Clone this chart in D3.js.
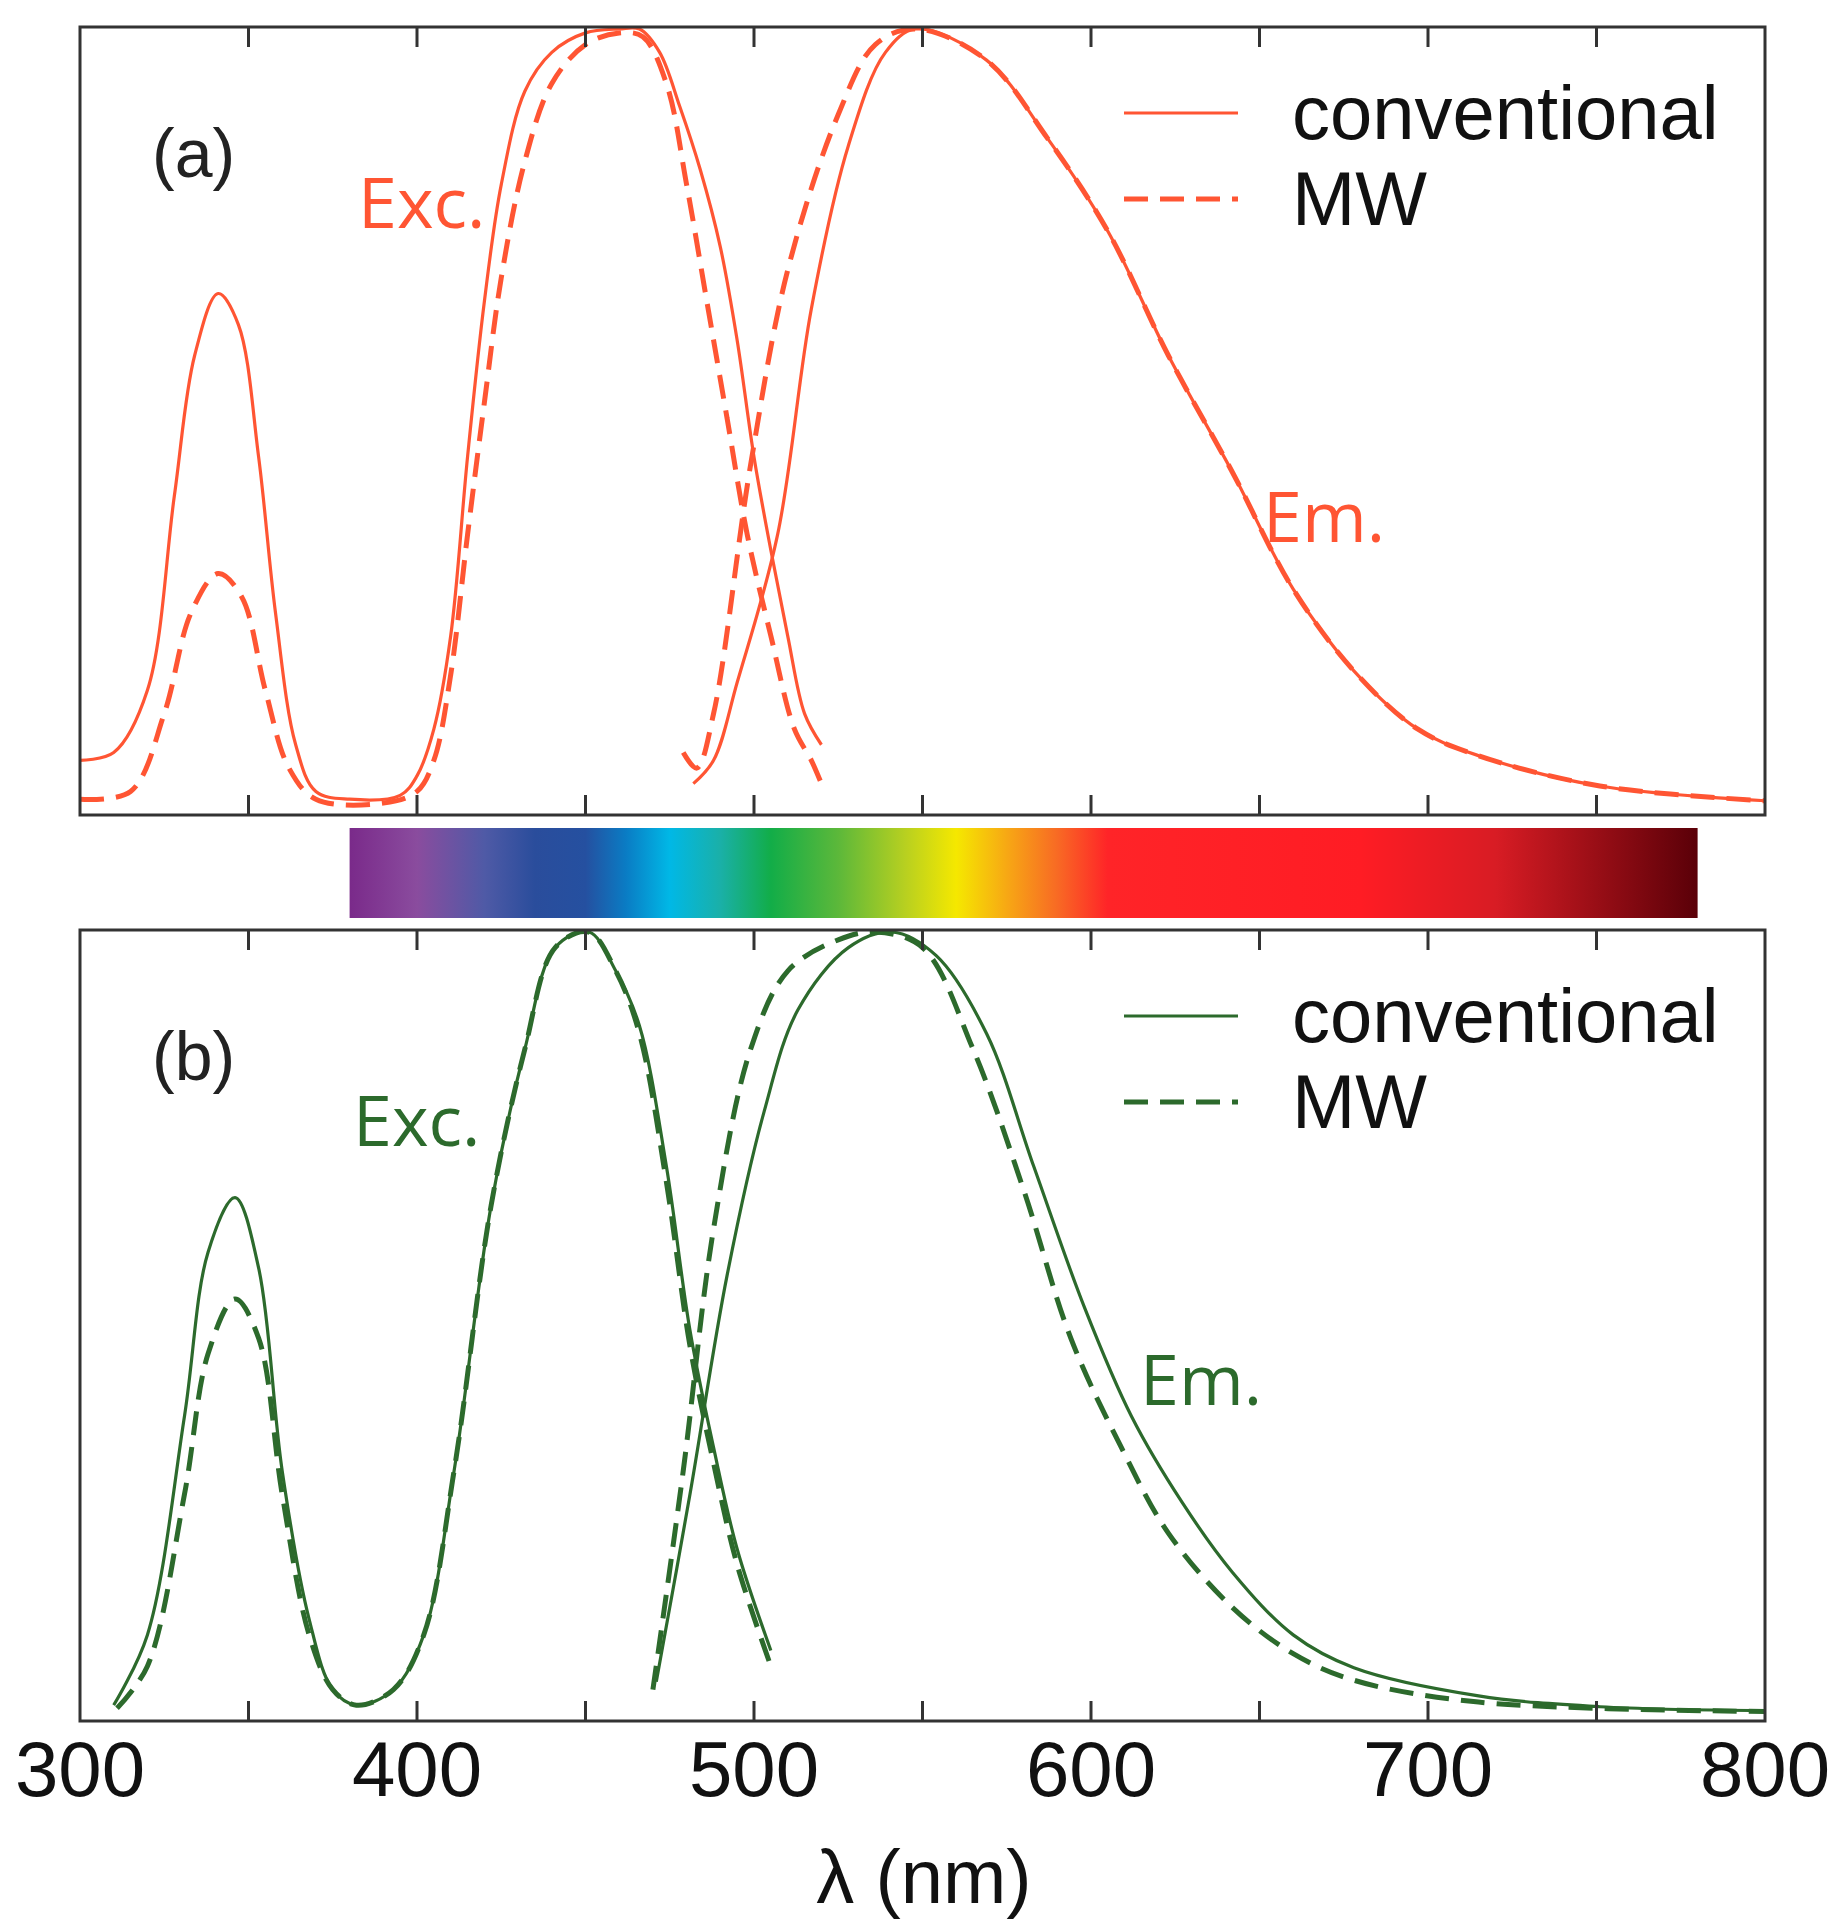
<!DOCTYPE html>
<html><head><meta charset="utf-8">
<script src="https://cdn.jsdelivr.net/npm/d3@7"></script>
<style>body{margin:0;background:#fff}svg{display:block}</style>
</head><body>
<svg id="chart" width="1848" height="1931"></svg>
<script>
// spectra: [wavelength nm, normalized intensity]
const aExcConv = [[300,0.06],[310,0.07],[320,0.15],[328,0.4],[334,0.58],[341,0.66],[347,0.62],[353,0.45],[358,0.25],[364,0.08],[370,0.02],[380,0.01],[395,0.015],[400,0.04],[405,0.1],[410,0.22],[415,0.45],[420,0.65],[425,0.8],[432,0.92],[440,0.97],[450,0.995],[460,1.0],[466,1.0],[472,0.97],[478,0.9],[484,0.82],[490,0.72],[495,0.6],[500,0.45],[505,0.33],[510,0.22],[515,0.12],[520,0.08]];
const aExcMW = [[300,0.01],[315,0.02],[325,0.12],[333,0.25],[341,0.3],[348,0.27],[355,0.15],[362,0.05],[370,0.01],[390,0.005],[400,0.02],[405,0.06],[410,0.17],[415,0.35],[420,0.52],[425,0.68],[432,0.83],[440,0.93],[450,0.98],[460,0.995],[467,0.99],[474,0.93],[480,0.8],[486,0.65],[492,0.5],[498,0.35],[505,0.22],[512,0.1],[517,0.06],[520,0.03]];
const aEmConv = [[482,0.03],[488,0.06],[495,0.16],[507,0.35],[517,0.64],[528,0.85],[539,0.97],[548,1.0],[569,0.96],[587,0.86],[605,0.74],[623,0.58],[642,0.43],[660,0.28],[678,0.175],[697,0.1],[715,0.066],[751,0.027],[800,0.008]];
const aEmMW = [[479,0.07],[483,0.05],[488,0.12],[499,0.44],[510,0.69],[525,0.89],[536,0.98],[548,1.0],[569,0.96],[587,0.86],[605,0.74],[623,0.58],[642,0.43],[660,0.28],[678,0.175],[697,0.1],[715,0.066],[751,0.027],[800,0.008]];
const bExcConv = [[310,0.01],[320,0.1],[331,0.38],[338,0.59],[346,0.66],[353,0.57],[360,0.31],[368,0.12],[375,0.03],[382,0.01],[393,0.03],[402,0.1],[411,0.31],[422,0.65],[432,0.85],[441,0.98],[451,1.0],[459,0.95],[466,0.88],[474,0.7],[481,0.49],[488,0.34],[495,0.21],[505,0.08]];
const bExcMW = [[311,0.006],[320,0.06],[331,0.28],[338,0.46],[346,0.53],[353,0.48],[360,0.28],[368,0.1],[375,0.03],[382,0.01],[393,0.03],[402,0.1],[411,0.31],[422,0.65],[432,0.85],[441,0.98],[451,1.0],[459,0.95],[466,0.87],[474,0.68],[481,0.47],[488,0.32],[495,0.19],[505,0.06]];
const bEmConv = [[471,0.04],[481,0.28],[492,0.56],[503,0.77],[513,0.9],[528,0.98],[541,1.0],[554,0.97],[569,0.87],[583,0.7],[598,0.52],[612,0.38],[627,0.27],[642,0.18],[660,0.1],[678,0.058],[715,0.022],[751,0.008],[800,0.003]];
const bEmMW = [[470,0.03],[479,0.31],[488,0.62],[499,0.85],[510,0.95],[525,0.99],[536,1.0],[550,0.98],[565,0.85],[580,0.67],[594,0.48],[609,0.34],[623,0.23],[642,0.135],[660,0.076],[678,0.042],[715,0.014],[800,0.002]];
const xTicks = [300,350,400,450,500,550,600,650,700,750,800];
const xLabels = [300,400,500,600,700,800];
const spectrumStops = [[380,"#7a2a8a"],[400,"#8a4c9e"],[420,"#4f5aa6"],[435,"#2a4d9c"],[450,"#2550a0"],[462,"#0a7cc4"],[475,"#00b8e6"],[490,"#1ab0a8"],[505,"#12ad48"],[525,"#5cb83a"],[545,"#b8d020"],[560,"#f5e800"],[575,"#f7a814"],[590,"#f86a24"],[605,"#ff2428"],[680,"#ff1c24"],[720,"#d81c24"],[780,"#5a0008"]];

const svg = d3.select("#chart");
const x = d3.scaleLinear().domain([300, 800]).range([80, 1765]);
const panels = [
  {top: 27, bottom: 815, color: "#ff5533", conv: [aExcConv, aEmConv], mw: [aExcMW, aEmMW], tag: "(a)",
   exc: [358, 228], em: [1263, 542]},
  {top: 930, bottom: 1721, color: "#2c6a2c", conv: [bExcConv, bEmConv], mw: [bExcMW, bEmMW], tag: "(b)",
   exc: [353, 1146], em: [1140, 1405]}
];
const font = "'Liberation Sans', Arial, sans-serif";
const calibri = "'Open Sans', 'Noto Sans', sans-serif";

panels.forEach(p => {
  const y = d3.scaleLinear().domain([0, 1]).range([p.bottom - 8, p.top + 2]);
  const line = d3.line().x(d => x(d[0])).y(d => y(d[1])).curve(d3.curveCatmullRom);
  const g = svg.append("g");
  p.conv.forEach(s => g.append("path").attr("d", line(s)).attr("fill", "none").attr("stroke", p.color).attr("stroke-width", 3.2));
  p.mw.forEach(s => g.append("path").attr("d", line(s)).attr("fill", "none").attr("stroke", p.color).attr("stroke-width", 5).attr("stroke-dasharray", "24 12"));
  g.append("rect").attr("x", x(300)).attr("y", p.top).attr("width", x(800) - x(300)).attr("height", p.bottom - p.top)
    .attr("fill", "none").attr("stroke", "#333").attr("stroke-width", 3);
  xTicks.slice(1, -1).forEach(t => {
    g.append("line").attr("x1", x(t)).attr("x2", x(t)).attr("y1", p.top).attr("y2", p.top + 20).attr("stroke", "#333").attr("stroke-width", 3);
    g.append("line").attr("x1", x(t)).attr("x2", x(t)).attr("y1", p.bottom).attr("y2", p.bottom - 20).attr("stroke", "#333").attr("stroke-width", 3);
  });
  g.append("text").attr("x", 152).attr("y", p.top + 150).attr("font-family", font).attr("font-size", 68).attr("fill", "#222").text(p.tag);
  g.append("text").attr("x", p.exc[0]).attr("y", p.exc[1]).attr("font-family", calibri).attr("font-size", 70).attr("fill", p.color).text("Exc.");
  g.append("text").attr("x", p.em[0]).attr("y", p.em[1]).attr("font-family", calibri).attr("font-size", 70).attr("fill", p.color).text("Em.");
  [["conventional", 3.2, null, 86], ["MW", 5, "24 12", 172]].forEach(([lbl, w, dash, dy]) => {
    g.append("line").attr("x1", 1124).attr("x2", 1238).attr("y1", p.top + dy).attr("y2", p.top + dy)
      .attr("stroke", p.color).attr("stroke-width", w).attr("stroke-dasharray", dash);
    g.append("text").attr("x", 1292).attr("y", p.top + dy + 26).attr("font-family", font).attr("font-size", 76).attr("fill", "#111").text(lbl);
  });
});

// visible spectrum bar
const grad = svg.append("defs").append("linearGradient").attr("id", "spec");
spectrumStops.forEach(([nm, c]) => grad.append("stop").attr("offset", (nm - 380) / 400).attr("stop-color", c));
svg.append("rect").attr("x", x(380)).attr("y", 828).attr("width", x(780) - x(380)).attr("height", 90).attr("fill", "url(#spec)");

// bottom axis labels
svg.append("g").selectAll("text").data(xLabels).join("text")
  .attr("x", d => x(d)).attr("y", 1796).attr("text-anchor", "middle")
  .attr("font-family", font).attr("font-size", 78).attr("fill", "#111").text(d => d);
svg.append("text").attr("x", 924).attr("y", 1903).attr("text-anchor", "middle")
  .attr("font-family", font).attr("font-size", 76).attr("fill", "#111").text("λ (nm)");
</script>
</body></html>
